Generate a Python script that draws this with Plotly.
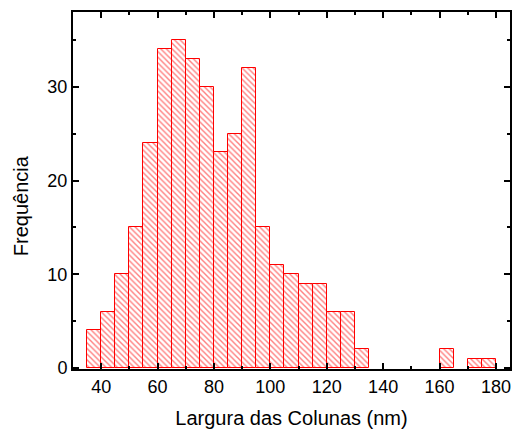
import plotly.graph_objects as go

bin_starts = [35, 40, 45, 50, 55, 60, 65, 70, 75, 80, 85, 90, 95, 100, 105, 110,
              115, 120, 125, 130, 135, 140, 145, 150, 155, 160, 165, 170, 175]
counts = [4, 6, 10, 15, 24, 34, 35, 33, 30, 23, 25, 32, 15, 11, 10, 9,
          9, 6, 6, 2, 0, 0, 0, 0, 0, 2, 0, 1, 1]
bin_width = 5

xs = [b + bin_width / 2 for b, c in zip(bin_starts, counts) if c > 0]
ys = [c for c in counts if c > 0]

fig = go.Figure(go.Bar(
    x=xs, y=ys, width=bin_width, base=0,
    marker=dict(color="white",
                line=dict(color="red", width=1),
                pattern=dict(shape="\\", fgcolor="red", bgcolor="white",
                             size=4, solidity=0.35)),
))

FONT = "Liberation Sans, Arial"
axis_common = dict(showline=True, linecolor="#000000", linewidth=2, mirror="ticks",
                   ticks="inside", ticklen=6, tickwidth=1.5, tickcolor="#000000",
                   showgrid=False, zeroline=False, layer="above traces",
                   tickfont=dict(family=FONT, size=18, color="black"))

fig.update_xaxes(range=[30, 185], tick0=40, dtick=20,
                 minor=dict(ticks="inside", ticklen=3, dtick=10, tick0=40, tickcolor="#000000",
                            tickwidth=1.5, showgrid=False),
                 title=dict(text="Largura das Colunas (nm)", standoff=15,
                            font=dict(family=FONT, size=20, color="black")),
                 **axis_common)
fig.update_yaxes(range=[-0.12, 38], tick0=0, dtick=10,
                 minor=dict(ticks="inside", ticklen=3, dtick=5, tick0=0, tickcolor="#000000",
                            tickwidth=1.5, showgrid=False),
                 **axis_common)

fig.add_annotation(text="Frequência", textangle=-90, xref="paper", yref="paper",
                   x=(21 - 73) / 439, y=(369 - 206) / 357, xanchor="center", yanchor="middle",
                   showarrow=False, font=dict(family=FONT, size=20, color="black"))

fig.update_layout(width=515, height=430, margin=dict(l=73, r=3, t=12, b=61),
                  plot_bgcolor="white", paper_bgcolor="white", showlegend=False,
                  bargap=0)

fig.write_html("out.html")
